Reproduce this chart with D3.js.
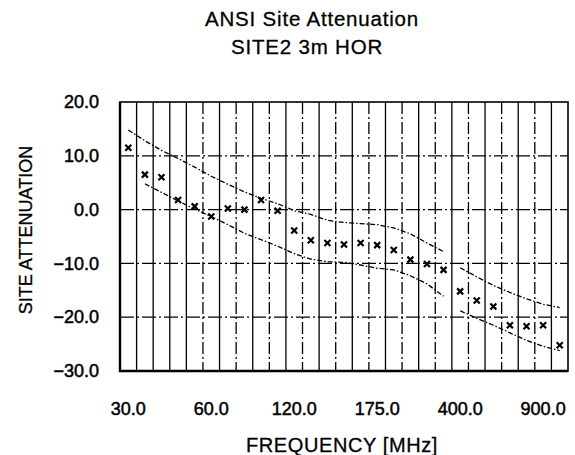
<!DOCTYPE html>
<html>
<head>
<meta charset="utf-8">
<script src="https://cdn.jsdelivr.net/npm/d3@7"></script>
<style>
body{margin:0;background:#fff}
svg text{font-family:"Liberation Sans",Arial,sans-serif;fill:#000}
</style>
</head>
<body>
<svg id="chart" width="575" height="455"></svg>
<script>
// ANSI C63.4 test frequencies (MHz), one band per frequency
let freqs = [30,35,40,45,50,60,70,80,90,100,120,125,140,150,160,175,180,200,250,300,400,500,600,700,800,900,1000]
let tickFreqs = [30,60,120,175,400,900]
let yTicks = [20,10,0,-10,-20,-30]

// measured site attenuation (x marks)
let measured = [11.5,6.5,6.0,1.8,0.6,-1.3,0.2,0.0,1.8,-0.2,-3.9,-5.7,-6.2,-6.5,-6.2,-6.6,-7.5,-9.3,-10.1,-11.2,-15.2,-16.9,-18.0,-21.5,-21.7,-21.5,-25.2]
// +/- limit curves
let upperLimit = [14.8,12.8,11.0,9.5,7.9,6.2,4.7,3.3,2.1,1.1,-0.2,-0.9,-2.0,-2.4,-2.6,-2.8,-3.4,-4.5,-6.2,-7.8,-10.8,-12.5,-14.1,-15.4,-16.6,-17.6,-18.2]
let lowerLimit = [null,4.8,3.2,1.6,0.1,-1.3,-2.8,-4.4,-5.6,-6.8,-8.2,-9.2,-9.7,-9.8,-10.3,-10.9,-11.2,-12.3,-13.8,-16.1,-18.8,-20.2,-21.5,-22.9,-24.3,-25.4,-26.2]
// antenna bands, limit curves are drawn per band
let bands = [[30,300],[400,1000]]

let svg = d3.select("#chart")
let plotLeft = 120, plotRight = 568, plotTop = 102, plotBottom = 371

let xScale = d3.scaleBand().domain(freqs).range([plotLeft,plotRight])
let yScale = d3.scaleLinear().domain([-30,20]).range([plotBottom,plotTop])
let cx = f => xScale(f) + xScale.bandwidth()/2

// grid
svg.append("g").selectAll("line")
  .data(d3.range(1,freqs.length))
  .enter().append("line")
  .attr("x1",k => plotLeft + k*xScale.step())
  .attr("x2",k => plotLeft + k*xScale.step())
  .attr("y1",plotTop).attr("y2",plotBottom)
  .attr("stroke","#000").attr("stroke-width",1.3)
  .attr("stroke-dasharray",k => (k>=5 && k%2==1) ? "12,3,2,3" : null)

svg.append("g").selectAll("line")
  .data(yTicks.slice(1,-1))
  .enter().append("line")
  .attr("x1",plotLeft).attr("x2",plotRight)
  .attr("y1",d => yScale(d)).attr("y2",d => yScale(d))
  .attr("stroke","#000").attr("stroke-width",1.3)
  .attr("stroke-dasharray","14,3,2,3")

// frame
svg.append("rect")
  .attr("x",plotLeft).attr("y",plotTop)
  .attr("width",plotRight-plotLeft).attr("height",plotBottom-plotTop)
  .attr("fill","none").attr("stroke","#000").attr("stroke-width",1.6)
svg.append("path")
  .attr("d",`M${plotLeft},${plotTop}V${plotBottom}H${plotRight}`)
  .attr("fill","none").attr("stroke","#000").attr("stroke-width",2.4)

// limit lines
let limitLine = d3.line()
  .defined(d => d.v != null)
  .x(d => cx(d.f))
  .y(d => yScale(d.v))

;[upperLimit,lowerLimit].forEach(function(lim){
  bands.forEach(function(b){
    let pts = freqs.map((f,i) => ({f:f, v:lim[i]})).filter(d => d.f>=b[0] && d.f<=b[1])
    svg.append("path")
      .attr("d",limitLine(pts))
      .attr("fill","none").attr("stroke","#000").attr("stroke-width",1.3)
      .attr("stroke-dasharray","5,2,1.5,2")
  })
})

// measured points
svg.append("g").selectAll(".markers")
  .data(measured)
  .enter().append("path")
  .attr("class","markers")
  .attr("transform",(d,i) => `translate(${cx(freqs[i])},${yScale(d)})`)
  .attr("d","M-3,-3L3,3M3,-3L-3,3")
  .attr("stroke","#000").attr("stroke-width",2.2)

// axes
let x_axis = d3.axisBottom(xScale).tickValues(tickFreqs).tickSize(0).tickPadding(31).tickFormat(d3.format(".1f"))
let y_axis = d3.axisLeft(yScale).tickValues(yTicks).tickSize(0).tickPadding(21).tickFormat(d3.format(".1f"))

svg.append("g").attr("class","axis")
  .attr("transform",`translate(0,${plotBottom})`)
  .call(x_axis)
svg.append("g").attr("class","axis")
  .attr("transform",`translate(${plotLeft},0)`)
  .call(y_axis)
svg.selectAll(".axis .domain").remove()
svg.selectAll(".axis text")
  .attr("font-size",18).attr("font-family",null)
  .attr("stroke","#000").attr("stroke-width",0.5)

// labels
svg.append("text")
  .attr("transform","translate(32,230) rotate(270)")
  .attr("text-anchor","middle")
  .attr("font-size",18)
  .attr("stroke","#000").attr("stroke-width",0.3)
  .text("SITE ATTENUATION")

svg.append("text")
  .attr("x",342).attr("y",452)
  .attr("text-anchor","middle")
  .attr("font-size",20)
  .attr("letter-spacing",0.6)
  .attr("stroke","#000").attr("stroke-width",0.3)
  .text("FREQUENCY [MHz]")

// title
svg.append("text")
  .attr("x",312).attr("y",26)
  .attr("text-anchor","middle")
  .attr("font-size",20.5)
  .attr("letter-spacing",0.8)
  .attr("stroke","#000").attr("stroke-width",0.3)
  .text("ANSI Site Attenuation")
svg.append("text")
  .attr("x",307).attr("y",54)
  .attr("text-anchor","middle")
  .attr("font-size",20.5)
  .attr("letter-spacing",0.8)
  .attr("stroke","#000").attr("stroke-width",0.3)
  .text("SITE2 3m HOR")
</script>
</body>
</html>
